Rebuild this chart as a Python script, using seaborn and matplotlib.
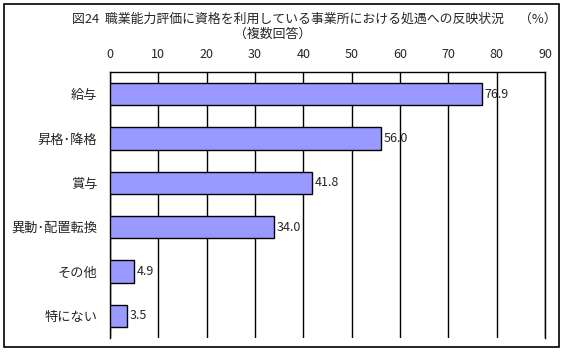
import matplotlib
matplotlib.use("Agg")
import matplotlib.pyplot as plt
import seaborn as sns
import pandas as pd
import numpy as np
from matplotlib.patches import Rectangle

categories = ["給与", "昇格･降格", "賞与", "異動･配置転換", "その他", "特にない"]
values = [76.9, 56.0, 41.8, 34.0, 4.9, 3.5]
xticks = [0, 10, 20, 30, 40, 50, 60, 70, 80, 90]
title = "図24  職業能力評価に資格を利用している事業所における処遇への反映状況"
subtitle = "（複数回答）"
unit = "（%）"

sns.set_style("white")
plt.rcParams["font.family"] = ["Noto Sans CJK JP", "DejaVu Sans"]

W, H = 567, 353
fig = plt.figure(figsize=(W / 100, H / 100), dpi=100)

def fx(px):
    return px / W

def fy(py):
    return 1 - py / H

ax = fig.add_axes([fx(110), fy(338), fx(545) - fx(110), fy(72) - fy(338)])

df = pd.DataFrame({"cat": categories, "val": values})
sns.barplot(data=df, x="val", y="cat", orient="h", color="#9999FF",
            edgecolor="black", linewidth=1, width=0.5, saturation=1, ax=ax,
            zorder=3)

ax.set_xlim(0, 90)
ax.set_ylim(len(categories) - 0.5, -0.5)
ax.set_xticks(xticks)
ax.set_xticklabels([str(t) for t in xticks], fontsize=9)
ax.xaxis.tick_top()
ax.tick_params(axis="x", length=0, pad=8)
ax.grid(axis="x", color="black", linewidth=1, zorder=1)
ax.grid(axis="y", visible=False)
ax.set_axisbelow(True)
ax.set_xlabel("")
ax.set_ylabel("")

ax.set_yticks(range(len(categories)))
ax.set_yticklabels(categories, fontsize=9.5)
ax.tick_params(axis="y", which="major", length=0, pad=9)
ax.set_yticks(np.arange(-0.5, len(categories), 1.0), minor=True)
ax.tick_params(axis="y", which="minor", direction="in", length=3, width=1,
               color="black")

for s in ["top", "left", "right"]:
    ax.spines[s].set_visible(True)
    ax.spines[s].set_color("black")
    ax.spines[s].set_linewidth(1)
ax.spines["bottom"].set_visible(False)

ax.bar_label(ax.containers[0], labels=[f"{v:.1f}" for v in values],
             padding=2, fontsize=9, zorder=4)

fig.text(fx(72), fy(19), title, ha="left", va="center", fontsize=9.3)
fig.text(fx(273), fy(34), subtitle, ha="center", va="center", fontsize=9.3)
fig.text(fx(538), fy(19), unit, ha="center", va="center", fontsize=9.3)

fig.patches.append(Rectangle((fx(4), fy(347)), fx(559) - fx(4), fy(4) - fy(347),
                             transform=fig.transFigure, fill=False,
                             edgecolor="black", linewidth=1.2))

fig.savefig("out.png", dpi=100)
